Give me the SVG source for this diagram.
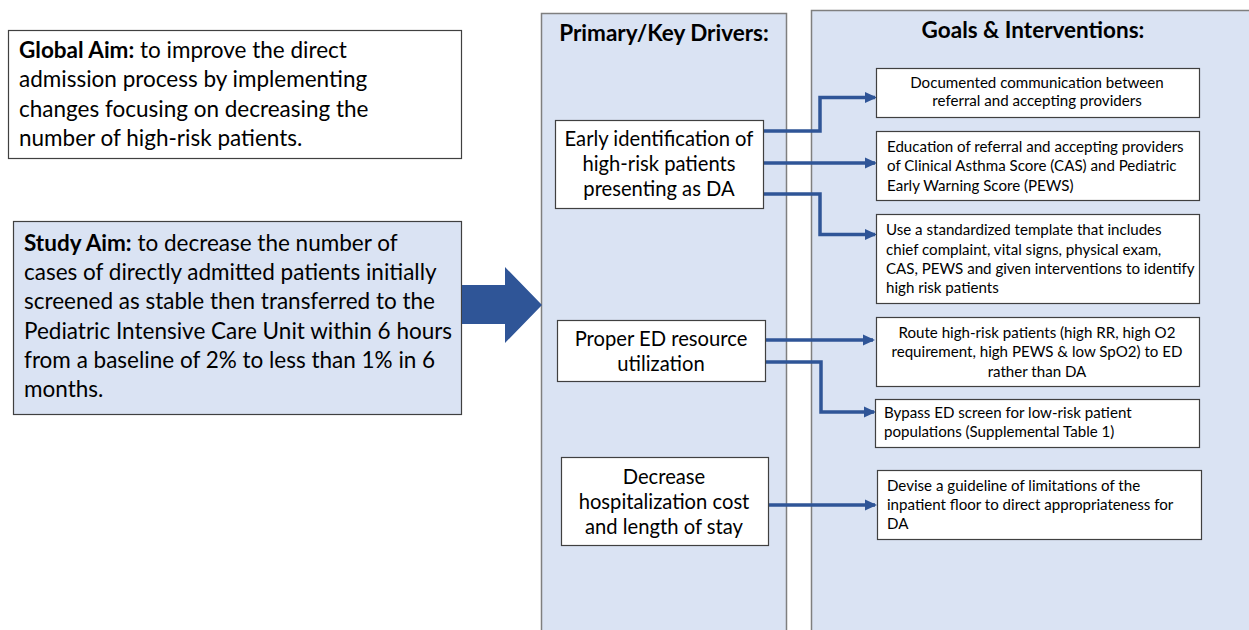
<svg xmlns="http://www.w3.org/2000/svg" width="1249" height="630" viewBox="0 0 1249 630">
<style>
.col{fill:#dae3f3;stroke:#7f7f7f;stroke-width:1.5}
.box{fill:#ffffff;stroke:#404040;stroke-width:1.2}
.aim{fill:#ffffff;stroke:#404040;stroke-width:1.2}
.study{fill:#dae3f3;stroke:#404040;stroke-width:1.2}
text{font-family:Lato,"Open Sans","Liberation Sans",sans-serif;fill:#000}
.big{font-size:22.5px}
.hdr{font-size:22.5px;font-weight:bold}
.drv{font-size:20.2px}
.sm{font-size:15.1px}
.c{text-anchor:middle}
.conn{fill:none;stroke:#2f5597;stroke-width:3.5}
</style>
<defs>
<marker id="ah" markerWidth="12" markerHeight="12" refX="10" refY="6" orient="auto" markerUnits="userSpaceOnUse" viewBox="0 0 12 12">
<path d="M0,0.5 L12,6 L0,11.5 z" fill="#2f5597"/>
</marker>
</defs>
<rect width="1249" height="630" fill="#ffffff"/>
<g id="global-aim">
<rect class="aim" x="8.5" y="30.5" width="453" height="128"/>
<text class="big" x="19" y="57.5"><tspan font-weight="bold">Global Aim:</tspan> to improve the direct</text>
<text class="big" x="19" y="87">admission process by implementing</text>
<text class="big" x="19" y="116.5">changes focusing on decreasing the</text>
<text class="big" x="19" y="146">number of high-risk patients.</text>
</g>
<g id="study-aim">
<rect class="study" x="13.5" y="221.5" width="448" height="193"/>
<text class="big" x="24" y="250.5"><tspan font-weight="bold">Study Aim:</tspan> to decrease the number of</text>
<text class="big" x="24" y="279.5">cases of directly admitted patients initially</text>
<text class="big" x="24" y="309">screened as stable then transferred to the</text>
<text class="big" x="24" y="338.5">Pediatric Intensive Care Unit within 6 hours</text>
<text class="big" x="24" y="367.5">from a baseline of 2% to less than 1% in 6</text>
<text class="big" x="24" y="396.5">months.</text>
</g>
<g id="drivers-column">
<rect class="col" x="541.5" y="13.5" width="245" height="630"/>
<text class="hdr c" x="664" y="41">Primary/Key Drivers:</text>
</g>
<g id="goals-column">
<rect class="col" x="811.5" y="10.5" width="450" height="630"/>
<text class="hdr c" x="1033" y="38">Goals &amp; Interventions:</text>
</g>
<g id="big-arrow">
<path d="M462,285 L505,285 L505,267 L542,305 L505,343 L505,324 L462,324 z" fill="#2f5597"/>
</g>
<g id="connectors">
<path class="conn" d="M764,131 H820 V97.5 H875" marker-end="url(#ah)"/>
<path class="conn" d="M764,163 H875" marker-end="url(#ah)"/>
<path class="conn" d="M764,194 H820 V234.5 H875" marker-end="url(#ah)"/>
<path class="conn" d="M766,340 H873" marker-end="url(#ah)"/>
<path class="conn" d="M766,362 H821 V412 H874" marker-end="url(#ah)"/>
<path class="conn" d="M769,505 H875" marker-end="url(#ah)"/>
</g>
<g id="driver-early">
<rect class="box" x="555.5" y="120.5" width="208" height="88"/>
<text class="drv c" x="659" y="146">Early identification of</text>
<text class="drv c" x="659" y="171">high-risk patients</text>
<text class="drv c" x="659" y="196">presenting as DA</text>
</g>
<g id="driver-ed">
<rect class="box" x="557.5" y="320.5" width="208" height="61"/>
<text class="drv c" x="661" y="346">Proper ED resource</text>
<text class="drv c" x="661" y="371">utilization</text>
</g>
<g id="driver-cost">
<rect class="box" x="561.5" y="457.5" width="207" height="88"/>
<text class="drv c" x="664" y="484">Decrease</text>
<text class="drv c" x="664" y="509">hospitalization cost</text>
<text class="drv c" x="664" y="534">and length of stay</text>
</g>
<g id="goal-documented">
<rect class="box" x="876.5" y="68.5" width="323" height="49"/>
<text class="sm c" x="1037" y="88">Documented communication between</text>
<text class="sm c" x="1037" y="106">referral and accepting providers</text>
</g>
<g id="goal-education">
<rect class="box" x="876.5" y="131.5" width="323" height="69"/>
<text class="sm" x="887" y="152">Education of referral and accepting providers</text>
<text class="sm" x="887" y="171">of Clinical Asthma Score (CAS) and Pediatric</text>
<text class="sm" x="887" y="191">Early Warning Score (PEWS)</text>
</g>
<g id="goal-template">
<rect class="box" x="876.5" y="214.5" width="323" height="89"/>
<text class="sm" x="886" y="235">Use a standardized template that includes</text>
<text class="sm" x="886" y="255">chief complaint, vital signs, physical exam,</text>
<text class="sm" x="886" y="274">CAS, PEWS and given interventions to identify</text>
<text class="sm" x="886" y="293">high risk patients</text>
</g>
<g id="goal-route">
<rect class="box" x="876.5" y="317.5" width="323" height="69"/>
<text class="sm c" x="1037" y="338">Route high-risk patients (high RR, high O2</text>
<text class="sm c" x="1037" y="357">requirement, high PEWS &amp; low SpO2) to ED</text>
<text class="sm c" x="1037" y="377">rather than DA</text>
</g>
<g id="goal-bypass">
<rect class="box" x="875.5" y="399.5" width="324" height="48"/>
<text class="sm" x="884" y="418">Bypass ED screen for low-risk patient</text>
<text class="sm" x="884" y="437">populations (Supplemental Table 1)</text>
</g>
<g id="goal-guideline">
<rect class="box" x="877.5" y="470.5" width="324" height="69"/>
<text class="sm" x="887" y="491">Devise a guideline of limitations of the</text>
<text class="sm" x="887" y="510">inpatient floor to direct appropriateness for</text>
<text class="sm" x="887" y="529">DA</text>
</g>
</svg>
